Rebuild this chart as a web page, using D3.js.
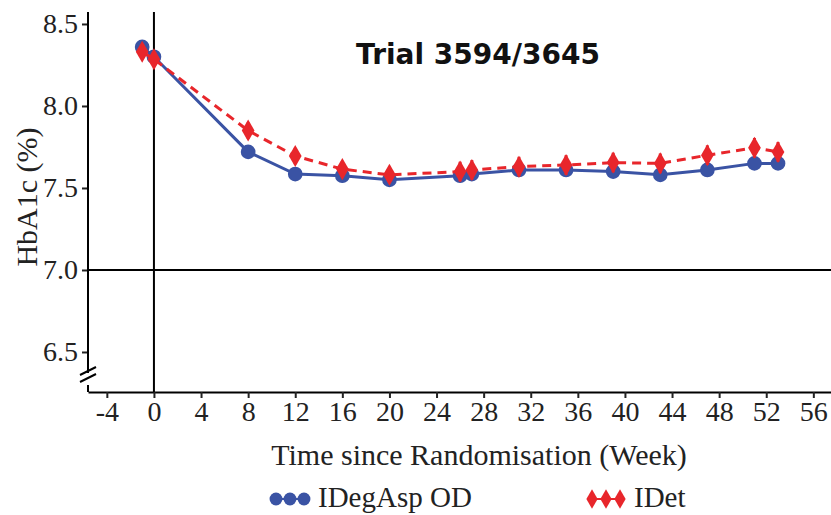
<!DOCTYPE html>
<html>
<head>
<meta charset="utf-8">
<script src="https://cdn.jsdelivr.net/npm/d3@7"></script>
<style>
  body { margin: 0; background: #fff; }
  svg { display: block; }
</style>
</head>
<body>
<svg id="chart" width="831" height="515"></svg>
<script>
// weeks since randomisation
var weeks = [-1, 0, 8, 12, 16, 20, 26, 27, 31, 35, 39, 43, 47, 51, 53];
// HbA1c (%) means
var idegasp = [8.36, 8.30, 7.72, 7.585, 7.575, 7.55, 7.575, 7.585, 7.61, 7.61, 7.60, 7.58, 7.61, 7.65, 7.65];
var idet    = [8.33, 8.285, 7.85, 7.695, 7.615, 7.58, 7.60, 7.61, 7.63, 7.64, 7.655, 7.65, 7.70, 7.745, 7.72];
// standard errors
var idegaspErr = [0.03, 0.03, 0.04, 0.04, 0.04, 0.04, 0.04, 0.04, 0.04, 0.04, 0.04, 0.04, 0.04, 0.04, 0.04];
var idetErr    = [0.03, 0.03, 0.05, 0.05, 0.05, 0.05, 0.06, 0.06, 0.06, 0.06, 0.06, 0.06, 0.06, 0.06, 0.06];
var xTicks = [-4, 0, 4, 8, 12, 16, 20, 24, 28, 32, 36, 40, 44, 48, 52, 56];
var yTicks = [6.5, 7.0, 7.5, 8.0, 8.5];

var blue = "#3a53a4", red = "#e8262b";
var serif = "'Liberation Serif', 'Times New Roman', serif";
var svg = d3.select("#chart");

var x = d3.scaleLinear().domain([-5.6, 57.5]).range([88, 831]);
var y = d3.scaleLinear().domain([6.256, 8.573]).range([392, 12]);

// x axis
var xAxis = svg.append("g").attr("transform", "translate(0," + y(6.256) + ")")
  .call(d3.axisBottom(x).tickValues(xTicks).tickFormat(function (d) { return String(d); })
    .tickSize(6).tickPadding(3).tickSizeOuter(0));
xAxis.select(".domain").attr("stroke", "#000").attr("stroke-width", 2);
xAxis.selectAll(".tick line").attr("stroke", "#222").attr("stroke-width", 2);

// y axis (with break near bottom)
var yAxis = svg.append("g").attr("transform", "translate(" + x(-5.6) + ",0)")
  .call(d3.axisLeft(y).tickValues(yTicks).tickFormat(d3.format(".1f")).tickSize(6).tickPadding(4).tickSizeOuter(0));
yAxis.select(".domain").remove();
yAxis.selectAll(".tick line").attr("stroke", "#222").attr("stroke-width", 2);
yAxis.append("line").attr("x1", 0).attr("x2", 0).attr("y1", y(8.573)).attr("y2", 373)
  .attr("stroke", "#000").attr("stroke-width", 2);
yAxis.append("line").attr("x1", 0).attr("x2", 0).attr("y1", 385).attr("y2", y(6.256))
  .attr("stroke", "#000").attr("stroke-width", 2);
[0, 7].forEach(function (o) {
  yAxis.append("line").attr("x1", -8).attr("x2", 8).attr("y1", 379 + o - 4).attr("y2", 379 + o - 12)
    .attr("stroke", "#000").attr("stroke-width", 2);
});

svg.selectAll(".tick text")
  .style("font-family", serif).style("font-size", "28px").attr("fill", "#222");

// reference lines
svg.append("line").attr("x1", x(0)).attr("x2", x(0)).attr("y1", y(8.573)).attr("y2", y(6.256))
  .attr("stroke", "#000").attr("stroke-width", 2);
svg.append("line").attr("x1", x(-5.6)).attr("x2", 831).attr("y1", y(7)).attr("y2", y(7))
  .attr("stroke", "#000").attr("stroke-width", 2);

// axis titles
svg.append("text").attr("x", 479).attr("y", 465).attr("text-anchor", "middle")
  .style("font-family", serif).style("font-size", "30px").attr("fill", "#222")
  .text("Time since Randomisation (Week)");
svg.append("text").attr("transform", "translate(37,197) rotate(-90)").attr("text-anchor", "middle")
  .style("font-family", serif).style("font-size", "30px").attr("fill", "#222")
  .text("HbA1c (%)");

svg.append("text").attr("x", 478).attr("y", 64).attr("text-anchor", "middle")
  .style("font-family", "'DejaVu Sans', Verdana, sans-serif").style("font-weight", "bold").style("font-size", "28px")
  .attr("fill", "#111").text("Trial 3594/3645");

// series
function drawSeries(vals, errs, color, dash, shape) {
  var pts = weeks.map(function (w, i) { return { w: w, v: vals[i], e: errs[i] }; });
  var g = svg.append("g");
  g.append("path").datum(pts)
    .attr("d", d3.line().x(function (d) { return x(d.w); }).y(function (d) { return y(d.v); }))
    .attr("fill", "none").attr("stroke", color).attr("stroke-width", 3)
    .attr("stroke-dasharray", dash);
  g.selectAll(".err").data(pts).enter().append("line")
    .attr("x1", function (d) { return x(d.w); }).attr("x2", function (d) { return x(d.w); })
    .attr("y1", function (d) { return y(d.v + d.e); }).attr("y2", function (d) { return y(d.v - d.e); })
    .attr("stroke", color).attr("stroke-width", 3);
  g.selectAll(".pt").data(pts).enter().append("path")
    .attr("transform", function (d) { return "translate(" + x(d.w) + "," + y(d.v) + ")"; })
    .attr("d", d3.symbol().type(shape).size(shape === d3.symbolCircle ? 170 : 140))
    .attr("fill", color);
}
drawSeries(idegasp, idegaspErr, blue, null, d3.symbolCircle);
drawSeries(idet, idetErr, red, "9,6", d3.symbolDiamond);

// legend
var legend = [
  { name: "IDegAsp OD", color: blue, shape: d3.symbolCircle, x: 276 },
  { name: "IDet", color: red, shape: d3.symbolDiamond, x: 592 }
];
legend.forEach(function (l) {
  var g = svg.append("g").attr("transform", "translate(" + l.x + ",499)");
  g.append("line").attr("x1", 0).attr("x2", 28).attr("stroke", l.color).attr("stroke-width", 2);
  [0, 14, 28].forEach(function (dx) {
    g.append("path").attr("transform", "translate(" + dx + ",0)")
      .attr("d", d3.symbol().type(l.shape).size(l.shape === d3.symbolCircle ? 130 : 110))
      .attr("fill", l.color);
  });
  g.append("text").attr("x", 42).attr("y", 8)
    .style("font-family", serif).style("font-size", "29px").attr("fill", "#222")
    .text(l.name);
});
</script>
</body>
</html>
